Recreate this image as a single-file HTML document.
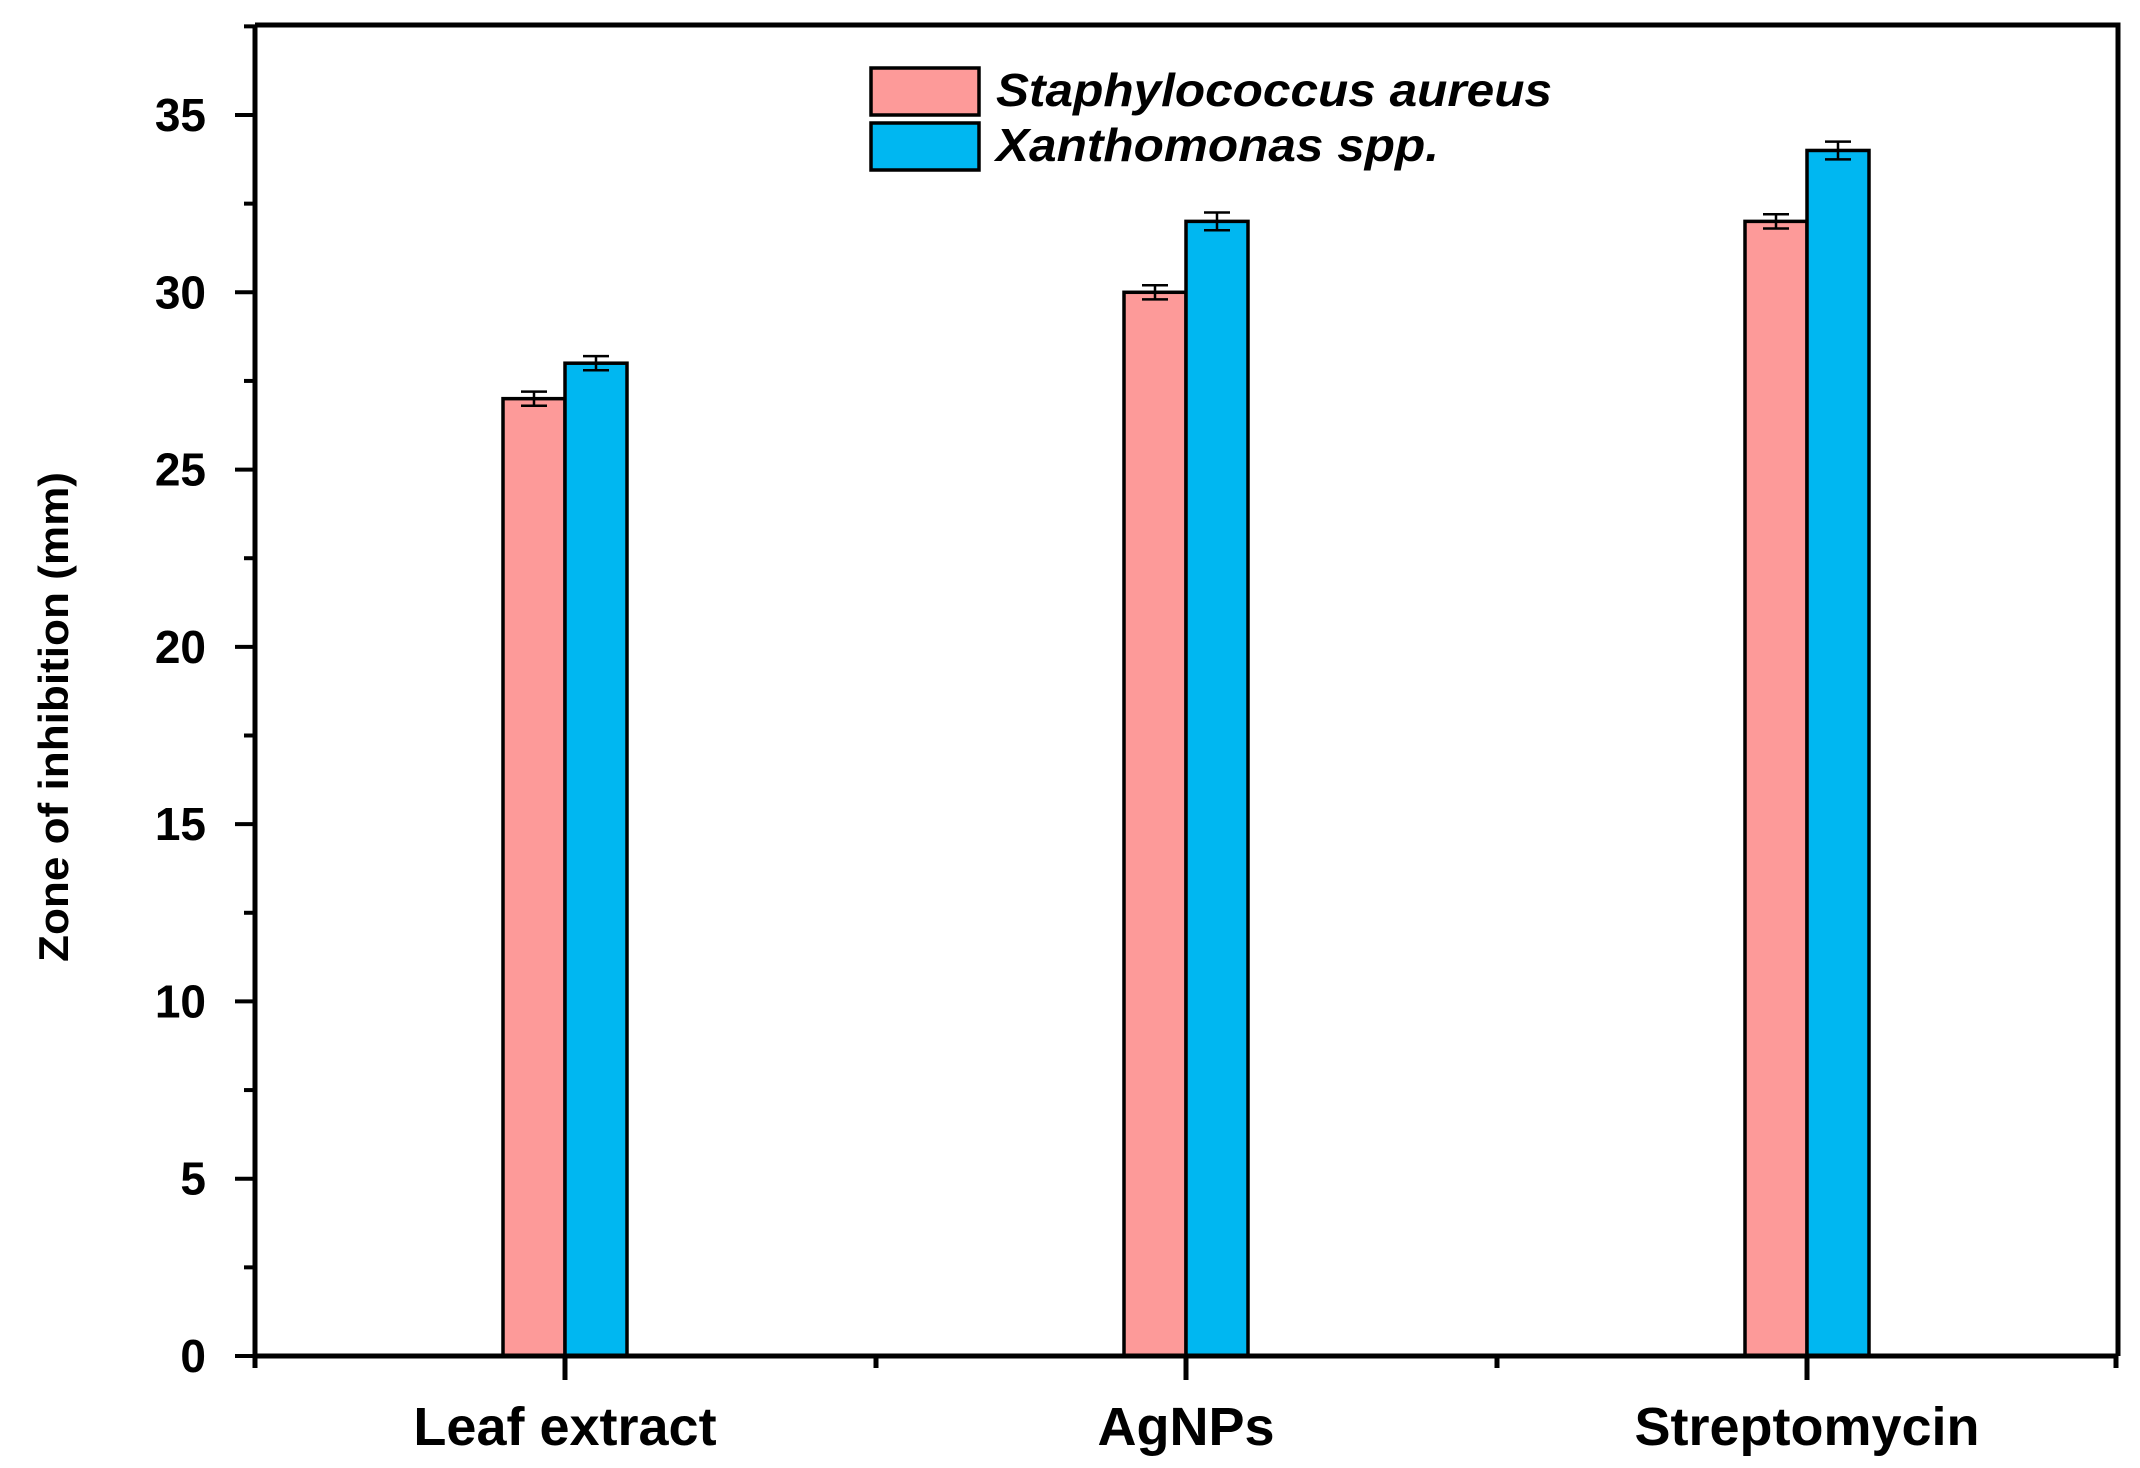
<!DOCTYPE html>
<html><head><meta charset="utf-8"><style>
html,body{margin:0;padding:0;background:#fff;}
svg{display:block;font-family:"Liberation Sans",sans-serif;}
</style></head><body>
<svg id="chart" width="2140" height="1468" viewBox="0 0 2140 1468">
<rect x="0" y="0" width="2140" height="1468" fill="#fff"/>
<g id="bars"></g>
<g id="axes"></g>
<g>
<rect x="871" y="68" width="108" height="47" fill="#fd9a99" stroke="#000" stroke-width="3.5"/>
<rect x="871" y="123" width="108" height="47" fill="#00b7f1" stroke="#000" stroke-width="3.5"/>
<text x="996" y="106" font-size="46" font-weight="bold" font-style="italic" textLength="556" lengthAdjust="spacingAndGlyphs">Staphylococcus aureus</text>
<text x="996" y="161" font-size="46" font-weight="bold" font-style="italic" textLength="443" lengthAdjust="spacingAndGlyphs">Xanthomonas spp.</text>
</g>
<text transform="translate(68,717) rotate(-90)" text-anchor="middle" font-size="42" font-weight="bold" textLength="490" lengthAdjust="spacingAndGlyphs">Zone of inhibition (mm)</text>
</svg>
<script>
const categories = ["Leaf extract", "AgNPs", "Streptomycin"];
const seriesNames = ["Staphylococcus aureus", "Xanthomonas spp."];
const staphValues = [27, 30, 32];
const xanthoValues = [28, 32, 34];
const staphErrors = [0.2, 0.2, 0.2];
const xanthoErrors = [0.2, 0.25, 0.25];
const yTicks = [0, 5, 10, 15, 20, 25, 30, 35];

const NS = "http://www.w3.org/2000/svg";
const X0 = 255, X1 = 2118, Y0 = 1356, YTOP = 25;
const yScale = v => Y0 - v * (Y0 - 115) / 35;
const groupCenter = i => 565 + i * 621;
const BW = 62;
function mk(tag, attrs, parent) { const e = document.createElementNS(NS, tag); for (const k in attrs) e.setAttribute(k, attrs[k]); parent.appendChild(e); return e; }
const bars = document.getElementById("bars");
const axes = document.getElementById("axes");
const series = [[staphValues, staphErrors, "#fd9a99", -1], [xanthoValues, xanthoErrors, "#00b7f1", 0]];
series.forEach(([vals, errs, col, off], s) => {
  vals.forEach((v, i) => {
    const x = groupCenter(i) + off * BW;
    const r = mk("rect", {x: x, y: yScale(v), width: BW, height: Y0 - yScale(v), fill: col, stroke: "#000", "stroke-width": 3.5}, bars);
    
    
    const cx = x + BW / 2, t = yScale(v + errs[i]), b = yScale(v - errs[i]);
    const g = mk("path", {d: `M${cx},${t}V${b}M${cx-13},${t}H${cx+13}M${cx-13},${b}H${cx+13}`, stroke: "#000", "stroke-width": 2.5, fill: "none"}, bars);
    
    
  });
});
const fr = mk("path", {d: `M${X0},${YTOP}H${X1}V${Y0}M${X0},${YTOP}V${Y0}H${X1}`, stroke: "#000", "stroke-width": 5, fill: "none"}, axes);


for (let v = 0; v <= 37.5; v += 2.5) {
  const major = v % 5 === 0;
  const y = yScale(v);
  const tk = mk("line", {x1: X0, x2: X0 - (major ? 20 : 11), y1: y, y2: y, stroke: "#000", "stroke-width": 4}, axes);
  
  
}
yTicks.forEach(v => {
  const t = mk("text", {x: 206, y: yScale(v) + 16, "text-anchor": "end", "font-size": 46, "font-weight": "bold"}, axes);
  t.textContent = v;
  
  
});
categories.forEach((c, i) => {
  const x = groupCenter(i);
  const tk = mk("line", {x1: x, x2: x, y1: Y0, y2: Y0 + 24, stroke: "#000", "stroke-width": 5}, axes);
  
  
  const t = mk("text", {x: x, y: 1445, "text-anchor": "middle", "font-size": 54, "font-weight": "bold"}, axes);
  t.textContent = c;
  
  
});
for (let i = 0; i <= 3; i++) {
  const x = X0 + i * (X1 - X0) / 3 + (i === 3 ? -2 : 0);
  const tk = mk("line", {x1: x, x2: x, y1: Y0, y2: Y0 + 12, stroke: "#000", "stroke-width": 5}, axes);
  
  
}
</script>
</body></html>
